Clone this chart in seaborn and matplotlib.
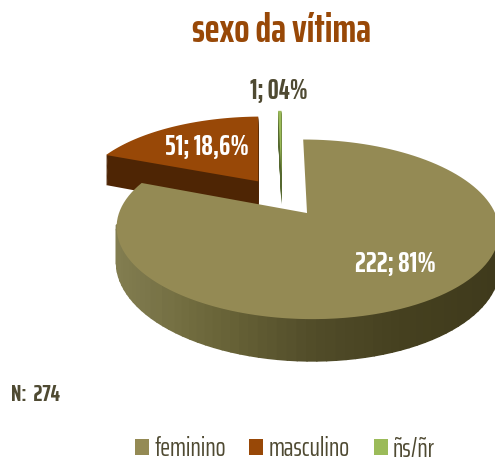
"""Sexo da vitima: exploded pie drawn with a tilted, extruded perspective."""

import matplotlib

matplotlib.use("Agg")
import matplotlib.pyplot as plt
import numpy as np
import seaborn as sns
from matplotlib.collections import PolyCollection
from matplotlib.patches import Patch, Polygon

categories = ["feminino", "masculino", "ñs/ñr"]
counts = [222, 51, 1]
value_labels = ["222; 81%", "51; 18,6%", "1; 04%"]
sample_label = "N:  274"
title_text = "sexo da vítima"

TOP_COLORS = ["#948A54", "#984807", "#9BBB59"]
SIDE_COLORS = ["#45401F", "#4E2504", "#55682F"]
RIM_SHADES = ["#827D50", "#6A6539", "#514C29", "#45401F", "#3F3A1C"]
TEXT_DARK = "#4F4A32"
EXPLODE = [0.237, 0.237, 0.30]

# perspective projection of the unit pie onto image pixels
CX, CY = 282.0, 196.6
SCALE_X, SCALE_Y = 181.6, 81.0
TILT = 0.175
DEPTH = 33


def project(xy: np.ndarray, depth: float = 0.0) -> np.ndarray:
    """Map pie coordinates to pixels; points lower in the pie come closer."""
    x, u = xy[:, 0], xy[:, 1]
    w = 1 + TILT * u
    return np.column_stack([CX + SCALE_X * x / w, CY - SCALE_Y * u / w + depth / w])


def wedge_outline(wedge) -> np.ndarray:
    """Sample the outline of a pie wedge as a polygon."""
    theta = np.radians(np.linspace(wedge.theta1, wedge.theta2, 120))
    arc = np.column_stack([np.cos(theta), np.sin(theta)]) * wedge.r + wedge.center
    return np.vstack([wedge.center, arc])


def draw_rim(ax, outline: np.ndarray) -> None:
    """Draw the front of a slice's curved rim as strips, lighter on the left."""
    arc = outline[1:]
    arc = arc[arc[:, 1] < outline[0, 1] - 0.12]  # the far part of the arc is hidden
    top = project(arc)
    bottom = project(arc, DEPTH)
    quads = [[top[i], top[i + 1], bottom[i + 1], bottom[i]] for i in range(len(top) - 1)]
    shades = sns.blend_palette(RIM_SHADES, 100)
    span = top[:, 0].max() - top[:, 0].min()
    colors = [shades[min(99, int(100 * (p[0] - top[:, 0].min()) / span))] for p in top[:-1]]
    ax.add_collection(PolyCollection(quads, facecolors=colors, edgecolors=colors, linewidths=1.2))


sns.set_theme(style="white")
plt.rcParams["font.family"] = ["Saira ExtraCondensed", "Liberation Sans", "DejaVu Sans"]

fig, ax = plt.subplots(figsize=(4.95, 4.57), dpi=100)
fig.subplots_adjust(left=0, right=1, top=1, bottom=0)

wedges, _ = ax.pie(counts, explode=EXPLODE, startangle=90, counterclock=False, colors=TOP_COLORS)
outlines = [wedge_outline(w) for w in wedges]
for w in wedges:
    w.remove()

ax.set_aspect("auto")
ax.set_xlim(0, 495)
ax.set_ylim(457, 0)
ax.set_axis_off()

# far slices first, the big one overlaps them
for i in [1, 2]:
    for depth in range(DEPTH, 0, -1):
        ax.add_patch(Polygon(project(outlines[i], depth), closed=True,
                             facecolor=SIDE_COLORS[i], edgecolor="none"))
    ax.add_patch(Polygon(project(outlines[i]), closed=True,
                         facecolor=TOP_COLORS[i], edgecolor="none"))
draw_rim(ax, outlines[0])
ax.add_patch(Polygon(project(outlines[0]), closed=True, facecolor=TOP_COLORS[0], edgecolor="none"))

ax.text(282, 31, title_text, ha="center", va="center", fontsize=29, fontweight="bold", color="#984807")
ax.text(395, 264, value_labels[0], ha="center", va="center", fontsize=20.5, fontweight="bold", color="white")
ax.text(207, 147, value_labels[1], ha="center", va="center", fontsize=20.5, fontweight="bold", color="white")
ax.text(279, 91, value_labels[2], ha="center", va="center", fontsize=20, fontweight="bold", color=TEXT_DARK)
ax.text(11, 395, sample_label, ha="left", va="center", fontsize=17, fontweight="bold", color=TEXT_DARK)

handles = [Patch(facecolor=c, edgecolor="none") for c in TOP_COLORS]
ax.legend(handles, categories, ncol=3, frameon=False, fontsize=19, labelcolor=TEXT_DARK,
          handlelength=0.53, handleheight=0.53, handletextpad=0.2, columnspacing=0.9,
          loc="center", bbox_to_anchor=(285, 449), bbox_transform=ax.transData,
          borderpad=0, borderaxespad=0)

fig.savefig("out.png", dpi=100)
plt.close(fig)
